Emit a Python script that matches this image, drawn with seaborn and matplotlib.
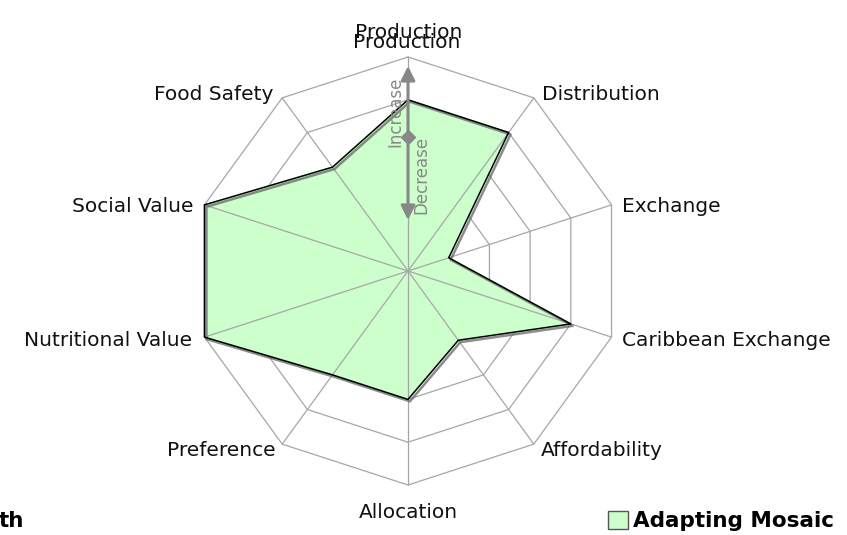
import numpy as np
import pandas as pd
import matplotlib
matplotlib.use("Agg")
import matplotlib.pyplot as plt
import matplotlib.patheffects as pe
from matplotlib.patches import Patch
import seaborn as sns

# ---- data ----
categories = ["Production", "Distribution", "Exchange", "Caribbean Exchange",
              "Affordability", "Allocation", "Preference", "Nutritional Value",
              "Social Value", "Food Safety"]
values = [0.8, 0.8, 0.2, 0.8, 0.4, 0.6, 0.6, 1.0, 1.0, 0.6]
ring_levels = [0.2, 0.4, 0.6, 0.8, 1.0]
series_name = "Adapting Mosaic"
arrow_labels = ["Increase", "Decrease"]

sns.set_theme(style="white")
plt.rcParams["font.family"] = ["DejaVu Sans"]

W, H = 847, 535
fig = plt.figure(figsize=(W / 100, H / 100), dpi=100)
ax = fig.add_axes([0, 0, 1, 1])
cx, cy, R = 408, 271, 214
ax.set_xlim(-cx / R, (W - cx) / R)
ax.set_ylim(-(H - cy) / R, cy / R)
ax.set_aspect("equal")
ax.axis("off")

n = len(categories)
ang = np.pi / 2 - 2 * np.pi * np.arange(n) / n   # clockwise from top
ux, uy = np.cos(ang), np.sin(ang)

grid_col = "#a6a6a6"
for r in ring_levels:
    xs = np.append(ux * r, ux[0] * r)
    ys = np.append(uy * r, uy[0] * r)
    ax.plot(xs, ys, color=grid_col, lw=0.9, zorder=1)

df = pd.DataFrame({"cat": categories, "val": values,
                   "x": ux * np.array(values), "y": uy * np.array(values)})
closed = pd.concat([df, df.iloc[[0]]], ignore_index=True)
ax.fill(closed["x"], closed["y"], color="#ccffcc", zorder=2)
for i in range(n):
    ax.plot([0, ux[i]], [0, uy[i]], color=grid_col, lw=0.9, zorder=3)
sns.lineplot(data=closed, x="x", y="y", sort=False, estimator=None, ax=ax,
             color="black", lw=1.1, zorder=4,
             path_effects=[pe.SimpleLineShadow(offset=(1.4, -1.4), shadow_color="#666666",
                                               alpha=0.75, linewidth=1.8),
                           pe.Normal()])
ax.set_xlabel("")
ax.set_ylabel("")
ax.axis("off")

# ---- axis labels ----
fs = 14.5
lab_pos = {
    1: (542, 94, "left"), 2: (622, 206, "left"), 3: (622, 341, "left"),
    4: (541, 450, "left"), 5: (408, 513, "center"), 6: (276, 450, "right"),
    7: (192, 341, "right"), 8: (193, 206, "right"), 9: (273, 94, "right"),
}
for i, (px, py, ha) in lab_pos.items():
    fig.text(px / W, 1 - py / H, categories[i], ha=ha, va="center",
             fontsize=fs, color="#111111")
# Production label (drawn twice, as in the reference)
fig.text(409 / W, 1 - 32 / H, categories[0], ha="center", va="center", fontsize=fs, color="#111111")
fig.text(407 / W, 1 - 43 / H, categories[0], ha="center", va="center", fontsize=fs, color="#111111")

# ---- increase / decrease arrow ----
arr_col = "#888888"
y_top = (cy - 66) / R
y_bot = (cy - 220) / R
y_mid = (cy - 137) / R
ax.annotate("", xy=(0, y_top), xytext=(0, y_bot),
            arrowprops=dict(arrowstyle="<|-|>,head_length=0.7,head_width=0.35",
                            color=arr_col, lw=2.2, shrinkA=0, shrinkB=0), zorder=6)
ax.plot([0], [y_mid], marker="D", ms=7, color=arr_col, zorder=7)
ax.text(-12.5 / R, (cy - 112) / R, arrow_labels[0], rotation=90, ha="center", va="center",
        fontsize=12, color=arr_col, zorder=7)
ax.text(13.5 / R, (cy - 175) / R, arrow_labels[1], rotation=90, ha="center", va="center",
        fontsize=12, color=arr_col, zorder=7)

# ---- legend ----
leg = fig.legend(handles=[Patch(facecolor="#ccffcc", edgecolor="#555555", lw=1.0, label=series_name)],
                 loc="center right", bbox_to_anchor=(834 / W, 1 - 521 / H), frameon=False,
                 handlelength=0.9, handleheight=0.9, handletextpad=0.25, labelcolor="black",
                 prop={"weight": "bold", "size": 15.5}, borderaxespad=0, borderpad=0)
fig.text(-1 / W, 1 - 521 / H, "th", ha="left", va="center", fontsize=15.5,
         fontweight="bold", color="black")

fig.savefig("out.png", dpi=100)
